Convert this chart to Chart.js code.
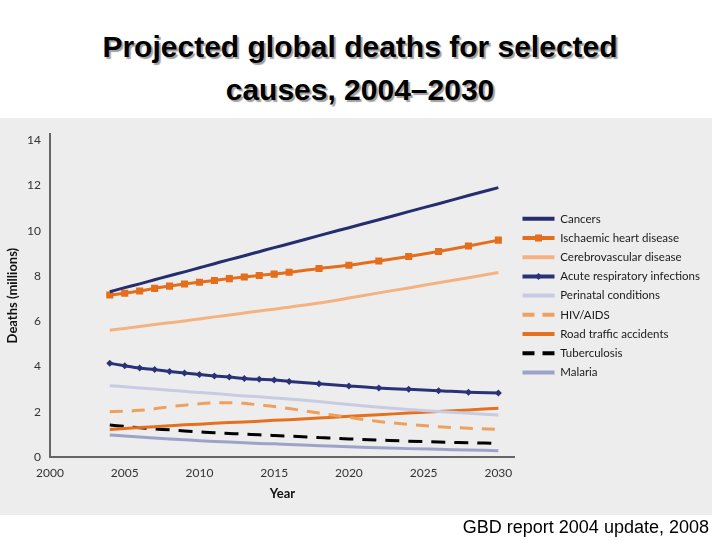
<!DOCTYPE html>
<html>
<head>
<meta charset="utf-8">
<script src="https://cdn.jsdelivr.net/npm/chart.js@4.4.1/dist/chart.umd.min.js"></script>
<style>
  body { margin: 0; background: #fff; width: 720px; height: 540px; overflow: hidden; position: relative; }
  #title {
    position: absolute; left: 0; top: 25px; width: 720px; margin: 0;
    font-family: "Liberation Sans", Arial, sans-serif; font-weight: bold; font-size: 30px;
    line-height: 43px; text-align: center; color: #000;
    text-shadow: 2px 2px 1px #a0a0a0;
  }
  #panel { position: absolute; left: 0; top: 118px; width: 712px; height: 397px; background: #ededed; }
  #source {
    position: absolute; right: 11px; top: 514px; font-family: "Liberation Sans", Arial, sans-serif;
    font-size: 18px; line-height: 26px; color: #000;
  }
</style>
</head>
<body>
<h1 id="title">Projected global deaths for selected<br>causes, 2004–2030</h1>
<div id="panel"><canvas id="graph_deaths" width="712" height="397"></canvas></div>
<div id="source">GBD report 2004 update, 2008</div>
<script>
// years with values (markers yearly to 2016, then every 2 years)
var years = [2004, 2005, 2006, 2007, 2008, 2009, 2010, 2011, 2012, 2013, 2014, 2015, 2016, 2018, 2020, 2022, 2024, 2026, 2028, 2030];

var cancers       = [7.30, 7.48, 7.65, 7.83, 8.01, 8.18, 8.36, 8.54, 8.72, 8.89, 9.07, 9.25, 9.42, 9.78, 10.13, 10.48, 10.84, 11.19, 11.55, 11.90];
var ischaemic     = [7.16, 7.23, 7.33, 7.45, 7.55, 7.64, 7.72, 7.80, 7.88, 7.95, 8.02, 8.08, 8.16, 8.33, 8.47, 8.66, 8.86, 9.08, 9.32, 9.58];
var cerebro       = [5.60, 5.68, 5.76, 5.85, 5.93, 6.01, 6.10, 6.19, 6.27, 6.36, 6.45, 6.53, 6.62, 6.80, 7.02, 7.25, 7.47, 7.70, 7.92, 8.15];
var respiratory   = [4.14, 4.03, 3.93, 3.86, 3.78, 3.71, 3.64, 3.58, 3.53, 3.47, 3.43, 3.40, 3.34, 3.24, 3.14, 3.05, 2.99, 2.93, 2.86, 2.83];
var perinatal     = [3.15, 3.10, 3.05, 3.00, 2.95, 2.90, 2.85, 2.80, 2.75, 2.70, 2.66, 2.61, 2.56, 2.45, 2.32, 2.20, 2.10, 2.01, 1.93, 1.86];
var hivAids       = [2.00, 2.02, 2.06, 2.13, 2.22, 2.29, 2.35, 2.39, 2.40, 2.37, 2.30, 2.23, 2.14, 1.94, 1.75, 1.57, 1.44, 1.34, 1.27, 1.22];
var roadTraffic   = [1.22, 1.26, 1.30, 1.34, 1.38, 1.42, 1.45, 1.49, 1.52, 1.55, 1.58, 1.62, 1.65, 1.72, 1.80, 1.87, 1.94, 2.01, 2.08, 2.15];
var tuberculosis  = [1.41, 1.35, 1.29, 1.24, 1.20, 1.15, 1.11, 1.07, 1.04, 1.01, 0.98, 0.95, 0.92, 0.86, 0.80, 0.75, 0.70, 0.66, 0.63, 0.60];
var malaria       = [0.97, 0.93, 0.88, 0.84, 0.80, 0.76, 0.72, 0.69, 0.66, 0.63, 0.60, 0.58, 0.55, 0.50, 0.45, 0.41, 0.37, 0.34, 0.31, 0.28];

var yTicks = [0, 2, 4, 6, 8, 10, 12, 14];
var xTicks = [2000, 2005, 2010, 2015, 2020, 2025, 2030];

var narrowFont = "Lato, 'Liberation Sans Narrow', sans-serif";

function points(values)
{
    var out = [];
    for (var i = 0; i < years.length; i++) {
        out.push({x: years[i], y: values[i]});
    }
    return out;
}

function series(label, values, color, extra)
{
    var ds = {
        label: label,
        data: points(values),
        borderColor: color,
        backgroundColor: color,
        borderWidth: 3,
        pointRadius: 0,
        pointHoverRadius: 0,
        borderDash: [],
        cubicInterpolationMode: 'monotone',
        fill: false
    };
    for (var k in extra) ds[k] = extra[k];
    return ds;
}

var data_deaths = {
    datasets: [
        series("Cancers", cancers, "#262d6e"),
        series("Ischaemic heart disease", ischaemic, "#e46e1b", {pointStyle: 'rect', pointRadius: 5, pointBorderWidth: 0}),
        series("Cerebrovascular disease", cerebro, "#f5b281"),
        series("Acute respiratory infections", respiratory, "#2a3277", {pointStyle: 'rectRot', pointRadius: 3.5, pointBorderWidth: 0}),
        series("Perinatal conditions", perinatal, "#c9cbe2"),
        series("HIV/AIDS", hivAids, "#eea15e", {borderDash: [13, 9]}),
        series("Road traffic accidents", roadTraffic, "#e5711f"),
        series("Tuberculosis", tuberculosis, "#000000", {borderDash: [14, 9]}),
        series("Malaria", malaria, "#9da2c8")
    ]
};

// small markers on the legend lines for the two marked series
var legendMarkers = {
    id: 'legendMarkers',
    afterDraw: function(chart) {
        var boxes = chart.legend.legendHitBoxes;
        var c = chart.ctx;
        for (var i = 0; i < boxes.length; i++) {
            var ds = chart.data.datasets[i];
            if (!ds.pointRadius) continue;
            var cx = boxes[i].left + 16;
            var cy = boxes[i].top + 5.75;
            c.save();
            c.fillStyle = ds.borderColor;
            if (ds.pointStyle === 'rect') {
                c.fillRect(cx - 3.5, cy - 3.5, 7, 7);
            } else {
                c.beginPath();
                c.moveTo(cx, cy - 3.5);
                c.lineTo(cx + 3.5, cy);
                c.lineTo(cx, cy + 3.5);
                c.lineTo(cx - 3.5, cy);
                c.closePath();
                c.fill();
            }
            c.restore();
        }
    }
};

var options = {
    responsive: false,
    animation: false,
    layout: { padding: { top: 16, right: 2, bottom: 0, left: 0 } },
    plugins: {
        tooltip: { enabled: false },
        legend: {
            position: 'right',
            align: 'center',
            fullSize: false,
            maxWidth: 260,
            labels: {
                color: '#1a1a1a',
                font: { family: narrowFont, size: 11.5 },
                usePointStyle: true,
                pointStyleWidth: 32,
                boxHeight: 11.5,
                padding: 7.7,
                generateLabels: function(chart) {
                    var items = Chart.defaults.plugins.legend.labels.generateLabels(chart);
                    for (var i = 0; i < items.length; i++) {
                        var ds = chart.data.datasets[items[i].datasetIndex];
                        items[i].pointStyle = 'line';
                        items[i].lineWidth = 4;
                        items[i].strokeStyle = ds.borderColor;
                        items[i].lineDash = ds.borderDash.length ? [12, 8] : [];
                    }
                    return items;
                }
            }
        }
    },
    scales: {
        x: {
            type: 'linear',
            min: 2000,
            max: 2031.1,
            grid: { display: false, drawTicks: false },
            border: { display: true, color: '#666666', width: 2 },
            afterBuildTicks: function(scale) {
                scale.ticks = xTicks.map(function(v) { return {value: v}; });
            },
            afterFit: function(scale) { scale.height = 58; },
            ticks: {
                padding: 9,
                color: '#333333',
                maxRotation: 0,
                font: { family: narrowFont, size: 12 },
                callback: function(v) { return String(v); }
            },
            title: {
                display: true,
                text: 'Year',
                color: '#111111',
                font: { family: narrowFont, size: 13, weight: 'bold' },
                padding: { top: 0, bottom: 13 }
            }
        },
        y: {
            min: 0,
            max: 14.26,
            grid: { display: false, drawTicks: false },
            border: { display: true, color: '#666666', width: 2 },
            afterBuildTicks: function(scale) {
                scale.ticks = yTicks.map(function(v) { return {value: v}; });
            },
            afterFit: function(scale) { scale.width = 50; },
            ticks: {
                padding: 9,
                color: '#333333',
                font: { family: narrowFont, size: 12 }
            },
            title: {
                display: true,
                text: 'Deaths (millions)',
                color: '#111111',
                font: { family: narrowFont, size: 13, weight: 'bold' },
                padding: { top: 5, bottom: 0 }
            }
        }
    }
};

var ctx_deaths = document.getElementById("graph_deaths").getContext("2d");

var myLineChart_deaths = new Chart(ctx_deaths, {
    type: 'line',
    data: data_deaths,
    options: options,
    plugins: [legendMarkers]
});
</script>
</body>
</html>
